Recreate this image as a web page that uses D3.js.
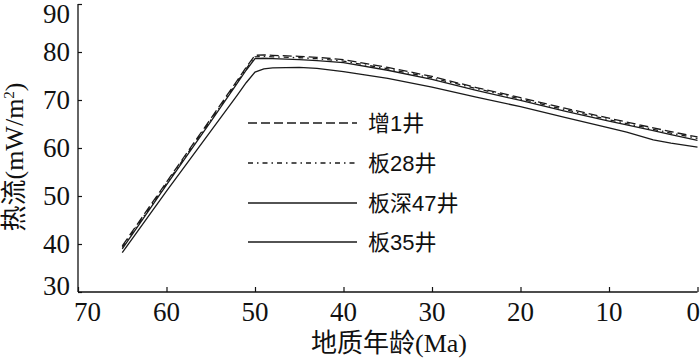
<!DOCTYPE html>
<html><head><meta charset="utf-8">
<script src="https://cdn.jsdelivr.net/npm/d3@7"></script>
<style>html,body{margin:0;padding:0;background:#fff;}svg{display:block;}</style>
</head><body>
<svg id="chart" width="700" height="358"></svg>
<script>
const ages = [65, 60, 55, 52, 51, 50, 49, 48, 45, 43, 40, 35, 30, 25, 20, 15, 10, 8, 5, 3, 0];
const seriesNames = ["增1井", "板28井", "板深47井", "板35井"];
const zeng1 = [39.6, 52.9, 66.1, 74.1, 76.8, 79.3, 79.4, 79.3, 79.1, 78.9, 78.4, 76.8, 74.9, 72.6, 70.5, 68.3, 66.2, 65.4, 64.2, 63.4, 62.3];
const ban28 = [39.3, 52.6, 65.8, 73.8, 76.5, 79.0, 79.1, 79.0, 78.8, 78.6, 78.1, 76.5, 74.6, 72.4, 70.2, 68.0, 65.9, 65.1, 63.9, 63.1, 62.0];
const banshen47 = [39.0, 52.3, 65.5, 73.5, 76.2, 78.6, 78.7, 78.6, 78.4, 78.2, 77.8, 76.2, 74.3, 72.0, 69.9, 67.7, 65.6, 64.8, 63.6, 62.8, 61.6];
const ban35 = [38.2, 51.0, 63.5, 71.0, 73.6, 75.8, 76.5, 76.7, 76.8, 76.6, 75.9, 74.5, 72.7, 70.6, 68.6, 66.4, 64.2, 63.3, 61.7, 61.0, 60.2];
const xTicks = [70, 60, 50, 40, 30, 20, 10, 0];
const yTicks = [30, 40, 50, 60, 70, 80, 90];
const xTitle = "地质年龄(Ma)";
const yTitleMain = "热流(mW/m";

const seriesValues = [zeng1, ban28, banshen47, ban35];
const dashes = ["9,4", "5,4,1.5,4", null, null];

const svg = d3.select("#chart");
const serif = "'Liberation Serif','Times New Roman','Noto Sans CJK SC',serif";
const sans = "'Liberation Sans',Arial,'Noto Sans CJK SC',sans-serif";

const x = d3.scaleLinear().domain([70, 0]).range([78, 697.5]);
const y = d3.scaleLinear().domain([30, 90]).range([292, 4]);

// axes
const xAxis = d3.axisBottom(x).tickValues(xTicks).tickSize(-5).tickFormat("");
const yAxis = d3.axisLeft(y).tickValues(yTicks).tickSize(-4).tickFormat("");
const gx = svg.append("g").attr("transform", "translate(0,292)").call(xAxis);
const gy = svg.append("g").attr("transform", "translate(78,0)").call(yAxis);
[gx, gy].forEach(g => {
  g.select(".domain").attr("stroke", "#111").attr("stroke-width", 1.3);
  g.selectAll(".tick line").attr("stroke", "#111").attr("stroke-width", 1.2);
});
gx.select(".domain").attr("d", "M78,0H697.5");
gy.select(".domain").attr("d", "M0,4V292");

// x tick labels
svg.append("g").selectAll("text").data(xTicks).join("text")
  .attr("x", d => d === 70 ? x(d) - 4 : (d === 0 ? 700 : x(d)))
  .attr("y", 321)
  .attr("text-anchor", d => d === 70 ? "start" : (d === 0 ? "end" : "middle"))
  .attr("font-family", serif).attr("font-size", 27).attr("fill", "#111")
  .text(d => d);

// y tick labels
svg.append("g").selectAll("text").data(yTicks).join("text")
  .attr("x", 70)
  .attr("y", d => d === 90 ? 14 : (d === 30 ? 286 : y(d)))
  .attr("dy", "0.35em")
  .attr("text-anchor", "end")
  .attr("font-family", serif).attr("font-size", 27).attr("fill", "#111")
  .text(d => d);

// axis titles
svg.append("text").attr("x", 389).attr("y", 352).attr("text-anchor", "middle")
  .attr("font-family", serif).attr("font-size", 26).attr("fill", "#111").text(xTitle);
const yt = svg.append("text").attr("transform", "translate(23,157) rotate(-90)")
  .attr("text-anchor", "middle").attr("font-family", serif).attr("font-size", 26).attr("fill", "#111");
yt.append("tspan").text(yTitleMain);
yt.append("tspan").attr("font-size", 15).attr("dy", -9).text("2");
yt.append("tspan").attr("dy", 9).text(")");

// lines
const line = d3.line().x(d => x(d[0])).y(d => y(d[1]));
seriesValues.forEach((vals, i) => {
  svg.append("path")
    .datum(ages.map((a, j) => [a, vals[j]]))
    .attr("d", line)
    .attr("fill", "none")
    .attr("stroke", "#1a1a1a")
    .attr("stroke-width", 1.3)
    .attr("stroke-dasharray", dashes[i]);
});

// legend
const legY = [123, 163, 203, 242];
const leg = svg.append("g");
seriesNames.forEach((n, i) => {
  leg.append("line").attr("x1", 248).attr("x2", 357).attr("y1", legY[i]).attr("y2", legY[i])
    .attr("stroke", "#1a1a1a").attr("stroke-width", 1.3).attr("stroke-dasharray", dashes[i]);
  leg.append("text").attr("x", 368).attr("y", legY[i]).attr("dy", "0.36em")
    .attr("font-family", sans).attr("font-size", 22).attr("fill", "#111").text(n);
});
</script>
</body></html>
